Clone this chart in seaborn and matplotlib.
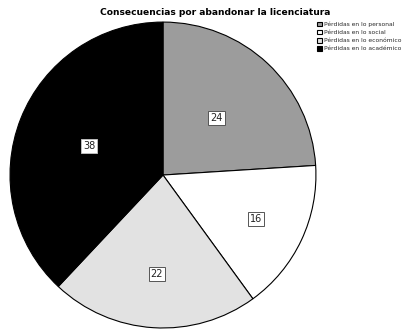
import matplotlib
matplotlib.use("Agg")
import matplotlib.pyplot as plt
import seaborn as sns

categories = ["Pérdidas en lo personal", "Pérdidas en lo social",
              "Pérdidas en lo económico", "Pérdidas en lo académico"]
values = [24, 16, 22, 38]
colors = ["#9c9c9c", "#ffffff", "#e2e2e2", "#000000"]
label_dist = [0.51, 0.67, 0.65, 0.52]

sns.set_style("white")
plt.rcParams['font.family'] = ['DejaVu Sans']

fig = plt.figure(figsize=(4.11, 3.30), dpi=100)
ax = fig.add_axes([0.0243, 0.0061, 0.7445, 0.927])

wedges, texts, autotexts = ax.pie(
    values, colors=colors, startangle=90, counterclock=False,
    autopct=lambda p: f"{p:.0f}", pctdistance=1.0,
    wedgeprops=dict(edgecolor="black", linewidth=0.8),
    textprops=dict(fontsize=7))
for t, c, d in zip(autotexts, colors, label_dist):
    x, y = t.get_position()
    t.set_position((x * d, y * d))
    t.set_color("#222222")
    t.set_bbox(dict(facecolor="white", edgecolor="#555555" if c != "#000000" else "#bbbbbb",
                    linewidth=0.7, boxstyle="square,pad=0.2"))
ax.set_xlim(-1.0, 1.0)
ax.set_ylim(-1.0, 1.0)
ax.set_aspect("equal")

fig.text(0.523, 0.962, "Consecuencias por abandonar la licenciatura",
         ha="center", va="center", fontsize=6.6, fontweight="bold", color="black")

fig.legend(wedges, categories, loc="upper left", bbox_to_anchor=(0.772, 0.935),
           fontsize=4.3, frameon=False, handlelength=0.85, handleheight=0.85,
           handletextpad=0.3, labelspacing=0.45, borderpad=0.0, borderaxespad=0.0)

fig.savefig("out.png", dpi=100)
